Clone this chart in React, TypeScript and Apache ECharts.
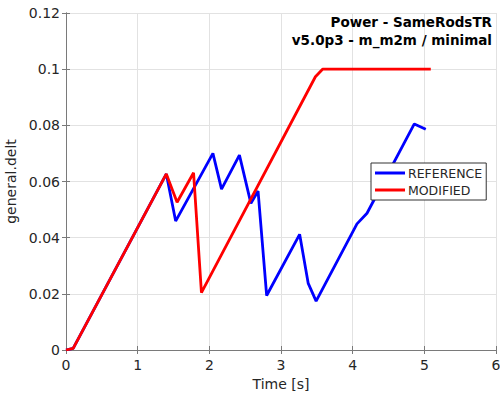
import React, { useEffect, useRef } from "react";
import * as echarts from "echarts";

const refTime = [0, 0.1, 1.4, 1.53, 2.05, 2.17, 2.42, 2.58, 2.68, 2.8, 3.26, 3.38, 3.49, 4.06, 4.2, 4.86, 5.02];
const refValue = [0, 0.0006, 0.0627, 0.0459, 0.07, 0.0573, 0.0694, 0.0522, 0.0566, 0.0194, 0.0412, 0.0237, 0.0174, 0.0449, 0.0487, 0.0805, 0.0786];
const modTime = [0, 0.1, 1.4, 1.55, 1.78, 1.89, 3.48, 3.58, 5.09];
const modValue = [0, 0.0006, 0.0627, 0.0526, 0.0631, 0.0204, 0.0973, 0.1, 0.1];
const seriesNames = ["REFERENCE", "MODIFIED"];
const titleLines = ["Power - SameRodsTR", "v5.0p3 - m_m2m / minimal"];
const xName = "Time [s]";
const yName = "general.delt";

const FONT = "DejaVu Sans";
const AXIS = "#7a7a7a";
const TEXT = "#262626";
const GRID = "#e2e2e2";

export default function App() {
  const ref = useRef<HTMLDivElement>(null);
  useEffect(() => {
    if (!ref.current) return;
    const chart = echarts.init(ref.current, undefined, { renderer: "svg" });
    const pair = (t: number[], v: number[]) => t.map((x, i) => [x, v[i]]);
    const hiddenAxisCommon = {
      axisLine: { show: true, lineStyle: { color: AXIS, width: 1 } },
      axisTick: { show: true, inside: true, length: 4, lineStyle: { color: AXIS } },
      axisLabel: { show: false },
      splitLine: { show: false },
    };
    chart.setOption({
      animation: false,
      backgroundColor: "#ffffff",
      grid: { left: 66, top: 13, right: 4, bottom: 46, containLabel: false, outerBoundsMode: "none" },
      legend: {
        orient: "vertical",
        left: 371,
        top: 163,
        padding: [3, 4, 3, 4],
        itemGap: 3,
        itemWidth: 30,
        itemHeight: 3,
        icon: "rect",
        backgroundColor: "#ffffff",
        borderColor: "#333333",
        borderWidth: 1,
        borderRadius: 0,
        textStyle: { fontFamily: FONT, fontSize: 12.5, color: TEXT, lineHeight: 14, padding: [0, 0, 0, -2] },
        data: seriesNames,
      },
      xAxis: [
        {
          type: "value",
          min: 0,
          max: 6,
          interval: 1,
          position: "bottom",
          name: xName,
          nameLocation: "middle",
          nameGap: 27,
          nameTextStyle: { fontFamily: FONT, fontSize: 14, color: TEXT },
          axisLine: { show: true, onZero: false, lineStyle: { color: AXIS, width: 1 } },
          axisTick: { show: true, inside: true, length: 4, lineStyle: { color: AXIS } },
          axisLabel: { fontFamily: FONT, fontSize: 14, color: TEXT, margin: 8 },
          splitLine: { show: true, lineStyle: { color: GRID, width: 1 } },
        },
        {
          type: "value",
          min: 0,
          max: 6,
          interval: 1,
          position: "top",
          ...hiddenAxisCommon,
        },
      ],
      yAxis: [
        {
          type: "value",
          min: 0,
          max: 0.12,
          interval: 0.02,
          position: "left",
          name: yName,
          nameLocation: "middle",
          nameGap: 41,
          nameTextStyle: { fontFamily: FONT, fontSize: 14, color: TEXT },
          axisLine: { show: true, onZero: false, lineStyle: { color: AXIS, width: 1 } },
          axisTick: { show: true, inside: true, length: 4, lineStyle: { color: AXIS } },
          axisLabel: { fontFamily: FONT, fontSize: 14, color: TEXT, margin: 6 },
          splitLine: { show: true, lineStyle: { color: GRID, width: 1 } },
        },
        {
          type: "value",
          min: 0,
          max: 0.12,
          interval: 0.02,
          position: "right",
          ...hiddenAxisCommon,
        },
      ],
      graphic: [
        {
          type: "text",
          x: 492,
          y: 13,
          z: 100,
          style: {
            text: titleLines.join("\n"),
            fontFamily: FONT,
            fontWeight: "bold",
            fontSize: 13.5,
            lineHeight: 18,
            fill: "#000000",
            align: "right",
            verticalAlign: "top",
          },
        },
      ],
      series: [
        {
          name: seriesNames[0],
          type: "line",
          data: pair(refTime, refValue),
          showSymbol: false,
          symbol: "none",
          color: "#0000ff",
          lineStyle: { color: "#0000ff", width: 2.8 },
          z: 2,
        },
        {
          name: seriesNames[1],
          type: "line",
          data: pair(modTime, modValue),
          showSymbol: false,
          symbol: "none",
          color: "#ff0000",
          lineStyle: { color: "#ff0000", width: 2.8 },
          z: 3,
        },
      ],
    });
    return () => chart.dispose();
  }, []);
  return (
    <div
      ref={ref}
      style={{ position: "fixed", left: 0, top: 0, width: 500, height: 396, background: "#fff" }}
    />
  );
}
